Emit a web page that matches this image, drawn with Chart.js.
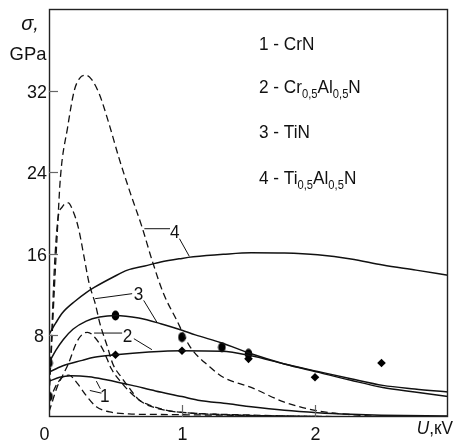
<!DOCTYPE html>
<html><head><meta charset="utf-8">
<script src="https://cdn.jsdelivr.net/npm/chart.js@4/dist/chart.umd.min.js"></script>
<style>html,body{margin:0;padding:0;background:#fff;overflow:hidden}</style>
</head><body>
<canvas id="c" width="453" height="445"></canvas>
<script>
// ---- data ----
const materials = ['1 - CrN', '2 - Cr0,5Al0,5N', '3 - TiN', '4 - Ti0,5Al0,5N'];
const yTicks = [8, 16, 24, 32];
const xTicks = [0, 1, 2];

// solid curves
const crnSolidU   = [0, 0.08, 0.165, 0.3, 0.43, 0.625, 0.8, 1.0, 1.12, 1.35, 1.52, 1.77, 2.02, 2.27, 2.5, 3.0];
const crnSolidS   = [3.5, 3.9, 4.05, 3.95, 3.65, 3.1, 2.55, 2.0, 1.65, 1.3, 1.0, 0.65, 0.42, 0.27, 0.18, 0.1];
const craln1SolidU = [0, 0.1, 0.25, 0.34, 0.5, 0.75, 1.0, 1.3, 1.52, 1.77, 2.02, 2.27, 2.51, 2.75, 3.0];
const craln1SolidS = [4.4, 5.0, 5.55, 5.85, 6.1, 6.37, 6.5, 6.45, 6.0, 5.2, 4.47, 3.75, 3.1, 2.75, 2.45];
const tinSolidU   = [0, 0.05, 0.108, 0.18, 0.28, 0.38, 0.5, 0.675, 0.84, 1.0, 1.1, 1.3, 1.52, 1.77, 2.02, 2.27, 2.51, 2.75, 3.0];
const tinSolidS   = [5.3, 6.5, 7.6, 8.6, 9.4, 9.8, 9.95, 9.7, 9.15, 8.5, 8.05, 7.25, 6.2, 5.2, 4.4, 3.6, 2.9, 2.45, 2.0];
const tialnSolidU = [0, 0.05, 0.1, 0.2, 0.28, 0.34, 0.48, 0.59, 0.72, 0.84, 1.0, 1.085, 1.31, 1.52, 1.77, 2.02, 2.27, 2.51, 2.76, 3.0];
const tialnSolidS = [8.1, 9.2, 10.2, 11.4, 12.2, 12.7, 13.7, 14.4, 14.8, 15.2, 15.55, 15.7, 15.95, 16.1, 16.07, 15.9, 15.5, 14.9, 14.4, 13.9];

// dashed curves
const crnDashU   = [0, 0.05, 0.1, 0.15, 0.207, 0.28, 0.356, 0.456, 0.6, 0.8, 1.0, 1.5, 2.0, 2.5, 3.0];
const crnDashS   = [1.5, 3.0, 3.9, 4.1, 3.4, 2.1, 1.0, 0.5, 0.3, 0.25, 0.22, 0.15, 0.06, 0.02, 0];
const craln1DashU = [0, 0.02, 0.06, 0.1, 0.145, 0.207, 0.25, 0.29, 0.345, 0.41, 0.47, 0.55, 0.62, 0.72, 0.8, 0.9, 1.0, 1.5, 2.0, 3.0];
const craln1DashS = [0.5, 1.3, 2.9, 4.0, 5.2, 7.3, 8.1, 8.3, 7.8, 6.5, 4.7, 3.3, 2.3, 1.3, 0.9, 0.6, 0.45, 0.15, 0.05, 0];
const tinDashU   = [0, 0.02, 0.04, 0.066, 0.1, 0.145, 0.18, 0.22, 0.265, 0.3, 0.35, 0.38, 0.44, 0.48, 0.55, 0.6, 0.675, 0.75, 0.87, 1.0, 1.5, 2.0, 3.0];
const tinDashS   = [2, 8, 14.5, 19.3, 20.6, 21, 20.2, 18.6, 15.6, 13.2, 11.0, 9.3, 6.85, 5.2, 3.8, 2.9, 1.7, 1.2, 0.7, 0.45, 0.2, 0.05, 0];
const tialnDashU = [0, 0.02, 0.04, 0.06, 0.086, 0.14, 0.19, 0.23, 0.277, 0.32, 0.377, 0.45, 0.526, 0.613, 0.70, 0.774, 0.861, 0.96, 1.06, 1.21, 1.31, 1.52, 1.77, 2.0, 2.3, 2.5, 3.0];
const tialnDashS = [2, 7, 12.5, 17.5, 23.5, 28.4, 32, 33.2, 33.5, 33.1, 31.7, 28.8, 25.4, 21.9, 18.6, 15.4, 12.1, 9.5, 6.9, 4.9, 3.9, 2.9, 1.46, 0.65, 0.2, 0.05, 0];

// measured points
const crnPtU = [0];                          const crnPtS = [2.0];
const craln1PtU = [0.5, 1.0, 1.5, 2.0, 2.5]; const craln1PtS = [6.1, 6.5, 5.7, 3.9, 5.3];
const tinPtU = [0, 0.5, 1.0, 1.3, 1.5];      const tinPtS = [5.3, 9.95, 7.83, 6.85, 6.2];

// curve number labels (data units) and their leader lines
const curveLabels = [
  {t:'4', u:0.946, s:17.58, lines:[[0.717,18.46,0.91,18.46],[0.981,17.48,1.055,15.75]]},
  {t:'3', u:0.673, s:11.43, lines:[[0.347,11.6,0.625,12.09],[0.712,11.43,0.811,9.30]]},
  {t:'2', u:0.591, s:7.34,  lines:[[0.339,8.23,0.55,8.23],[0.638,7.68,0.774,6.6]]},
  {t:'1', u:0.420, s:1.46,  lines:[[0.307,2.6,0.394,2.34],[0.356,3.52,0.386,2.77]]}
];

// ---- build datasets ----
const zip = (u, s) => u.map((x, i) => ({x, y: s[i]}));
const lineDs = (u, s, dashed) => ({
  data: zip(u, s), borderColor: '#111', borderWidth: dashed ? 1.3 : 1.5,
  borderDash: dashed ? [7, 4] : [], pointRadius: 0, fill: false,
  cubicInterpolationMode: 'monotone'
});
function ellipseImg() {
  const c = document.createElement('canvas'); c.width = 9; c.height = 11;
  const g = c.getContext('2d'); g.fillStyle = '#000';
  g.beginPath(); g.ellipse(4.5, 5.5, 3.8, 5, 0, 0, Math.PI * 2); g.fill();
  return c;
}
const ell = ellipseImg();
const ptDs = (u, s, style) => ({
  data: zip(u, s), showLine: false, pointStyle: style === 'd' ? 'rectRot' : ell,
  pointRadius: style === 'd' ? 4.3 : 5, pointBackgroundColor: '#000', pointBorderColor: '#000', pointBorderWidth: 0
});

const datasets = [
  lineDs(tialnDashU, tialnDashS, true),
  lineDs(tinDashU, tinDashS, true),
  lineDs(craln1DashU, craln1DashS, true),
  lineDs(crnDashU, crnDashS, true),
  lineDs(tialnSolidU, tialnSolidS, false),
  lineDs(tinSolidU, tinSolidS, false),
  lineDs(craln1SolidU, craln1SolidS, false),
  lineDs(crnSolidU, crnSolidS, false),
  ptDs(tinPtU, tinPtS, 'c'),
  ptDs(crnPtU, crnPtS, 'c'),
  ptDs(craln1PtU, craln1PtS, 'd')
];

const FONT = '"Liberation Sans", Arial, sans-serif';
function txt(ctx, s, x, y, size, align, italic, sx) {
  ctx.save();
  ctx.font = (italic ? 'italic ' : '') + size + 'px ' + FONT;
  ctx.textBaseline = 'alphabetic'; ctx.textAlign = align || 'left';
  ctx.fillStyle = '#111';
  ctx.translate(x, y); ctx.scale(sx || 0.93, 1);
  ctx.fillText(s, 0, 0);
  ctx.restore();
}
// rich legend: "0,5" parts become subscripts
function richText(ctx, s, x, y) {
  const parts = s.split(/(0,5)/);
  let cx = x;
  const sx = 0.93;
  for (const p of parts) {
    if (!p) continue;
    const sub = p === '0,5';
    const size = sub ? 12 : 18.5;
    ctx.save();
    ctx.font = size + 'px ' + FONT;
    const w = ctx.measureText(p).width * sx;
    ctx.restore();
    txt(ctx, p, cx, sub ? y + 4.8 : y, size, 'left', false, sx);
    cx += w;
  }
}

const decor = {
  id: 'decor',
  afterDatasetsDraw(chart) {
    const ctx = chart.ctx, xs = chart.scales.x, ys = chart.scales.y, a = chart.chartArea;
    ctx.save();
    // frame
    ctx.strokeStyle = '#222'; ctx.lineWidth = 1.4;
    ctx.strokeRect(Math.round(a.left) + 0.5, Math.round(a.top) + 0.5, Math.round(a.right - a.left) - 1, Math.round(a.bottom - a.top) - 1);
    // inward ticks
    ctx.strokeStyle = '#666'; ctx.lineWidth = 1.2;
    for (const v of yTicks) {
      const y = Math.round(ys.getPixelForValue(v)) + 0.5;
      ctx.beginPath(); ctx.moveTo(a.left, y); ctx.lineTo(a.left + 9, y); ctx.stroke();
      txt(ctx, String(v), v < 10 ? a.left - 5 : a.left - 2, y + 6.5, 18.5, 'right', false, 0.97);
    }
    for (const v of xTicks) {
      const x = Math.round(xs.getPixelForValue(v)) + 0.5;
      if (v > 0) { ctx.beginPath(); ctx.moveTo(x, a.bottom - 12); ctx.lineTo(x, a.bottom); ctx.stroke(); }
      txt(ctx, String(v), v === 0 ? x - 5 : x, 440, 18.5, 'center', false, 0.97);
    }
    // axis titles
    txt(ctx, 'σ,', 30, 30, 20, 'center', true, 1);
    txt(ctx, 'GPa', 28, 60, 19, 'center', false, 0.97);
    // U,кV
    ctx.save();
    ctx.font = '18.5px ' + FONT;
    const wk = ctx.measureText(',кV').width * 0.93;
    ctx.restore();
    txt(ctx, ',кV', 453, 433.5, 18.5, 'right');
    txt(ctx, 'U', 453 - wk, 433.5, 18.5, 'right', true);
    // curve labels + leaders
    ctx.strokeStyle = '#111'; ctx.lineWidth = 1;
    for (const L of curveLabels) {
      for (const l of L.lines) {
        ctx.beginPath();
        ctx.moveTo(xs.getPixelForValue(l[0]), ys.getPixelForValue(l[1]));
        ctx.lineTo(xs.getPixelForValue(l[2]), ys.getPixelForValue(l[3]));
        ctx.stroke();
      }
      txt(ctx, L.t, xs.getPixelForValue(L.u), ys.getPixelForValue(L.s), 18.5, 'center');
    }
    // material legend
    const legY = [50, 93.3, 138.3, 184];
    materials.forEach((m, i) => richText(ctx, m, 259, legY[i]));
    ctx.restore();
  }
};

new Chart(document.getElementById('c').getContext('2d'), {
  type: 'line',
  data: { datasets },
  options: {
    responsive: false, animation: false, devicePixelRatio: 1,
    layout: { padding: { left: 49, right: 1, top: 9, bottom: 28 } },
    scales: {
      x: { type: 'linear', min: 0, max: 3, display: false },
      y: { type: 'linear', min: 0, max: 40, display: false }
    },
    plugins: { legend: { display: false }, tooltip: { enabled: false } }
  },
  plugins: [decor]
});
</script>
</body></html>
